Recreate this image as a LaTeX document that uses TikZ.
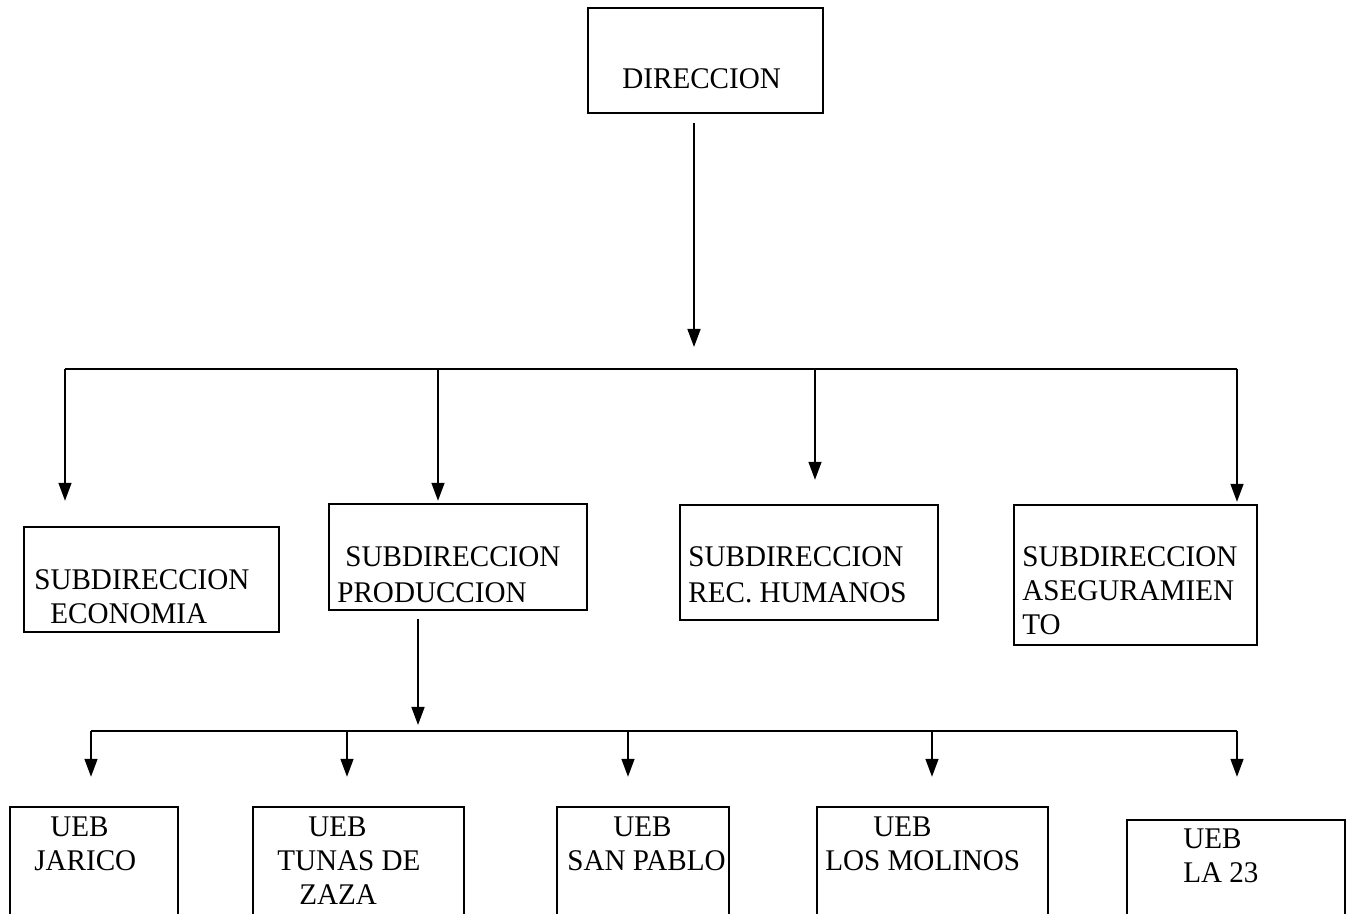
\documentclass[tikz,border=0pt]{standalone}
\usepackage{fontspec}
\setmainfont[FakeStretch=0.97]{Liberation Serif}
\usetikzlibrary{arrows.meta}

\begin{document}
\begin{tikzpicture}[x=0.5pt,y=-0.5pt,
  box/.style={draw,line width=1.2pt,inner sep=0pt},
  lbl/.style={anchor=base west,inner sep=0pt,font=\fontsize{15pt}{17pt}\selectfont},
  conn/.style={line width=0.8pt},
  arr/.style={conn,-{Triangle[length=9pt,width=6.5pt]}}]
\clip (0,0) rectangle (1356,914);

%Boxes of the chart
\node[box,minimum width=117.5pt,minimum height=52.5pt] (dir) at (705.5,60.5) {};
\node[box,minimum width=127.5pt,minimum height=52.5pt] (econ) at (151.5,579.5) {};
\node[box,minimum width=129pt,minimum height=53pt] (prod) at (458,557) {};
\node[box,minimum width=129pt,minimum height=57.5pt] (rech) at (809,562.5) {};
\node[box,minimum width=121.5pt,minimum height=70pt] (aseg) at (1135.5,575) {};
\node[box,minimum width=84pt,minimum height=66.5pt] (jar) at (94,873.5) {};
\node[box,minimum width=105.5pt,minimum height=66.5pt] (tun) at (358.5,873.5) {};
\node[box,minimum width=86pt,minimum height=66.5pt] (sanp) at (643,873.5) {};
\node[box,minimum width=115.5pt,minimum height=66.5pt] (mol) at (932.5,873.5) {};
\node[box,minimum width=109pt,minimum height=60pt] (la) at (1236,880) {};

%Texts inside the boxes
\node[lbl] (dirA) at (622,89) {DIRECCION};
\node[lbl] (econA) at (34,590) {SUBDIRECCION};
\node[lbl] (econB) at (50,624) {ECONOMIA};
\node[lbl] (prodA) at (345,567) {SUBDIRECCION};
\node[lbl] (prodB) at (337,603) {PRODUCCION};
\node[lbl] (rechA) at (688,567) {SUBDIRECCION};
\node[lbl] (rechB) at (688,603) {REC. HUMANOS};
\node[lbl] (asegA) at (1022,567) {SUBDIRECCION};
\node[lbl] (asegB) at (1022,601) {ASEGURAMIEN};
\node[lbl] (asegC) at (1022,635) {TO};
\node[lbl] (jarA) at (50,836) {UEB};
\node[lbl] (jarB) at (34,870) {JARICO};
\node[lbl] (tunA) at (308,836) {UEB};
\node[lbl] (tunB) at (277,870) {TUNAS DE};
\node[lbl] (tunC) at (299,904) {ZAZA};
\node[lbl] (sanpA) at (613,836) {UEB};
\node[lbl] (sanpB) at (567,870) {SAN PABLO};
\node[lbl] (molA) at (873,836) {UEB};
\node[lbl] (molB) at (825,870) {LOS MOLINOS};
\node[lbl] (laA) at (1183,848) {UEB};
\node[lbl] (laB) at (1183,882) {LA 23};

%First level: bus under DIRECCION
\coordinate (busA) at (694,369);
\coordinate (ja) at (65,369);
\coordinate (jb) at (438,369);
\coordinate (jc) at (815,369);
\coordinate (jd) at (1237,369);
\draw[arr,shorten <=4.5pt,shorten >=11pt] (dir.south -| busA) -- (busA);
\draw[conn] (ja) -- (jd);
\foreach \j/\b/\s in {ja/econ/12.5pt, jb/prod/1pt, jc/rech/12pt, jd/aseg/1pt}
  \draw[arr,shorten >=\s] (\j) -- (\j |- \b.north);

%Second level: bus under PRODUCCION
\coordinate (busB) at (418,731);
\coordinate (ka) at (91,731);
\coordinate (kb) at (347,731);
\coordinate (kc) at (628,731);
\coordinate (kd) at (932,731);
\coordinate (ke) at (1237,731);
\draw[arr,shorten <=4pt,shorten >=3pt] (prod.south -| busB) -- (busB);
\draw[conn] (ka) -- (ke);
\foreach \k/\b/\s in {ka/jar/14.5pt, kb/tun/14.5pt, kc/sanp/14.5pt, kd/mol/14.5pt, ke/la/21pt}
  \draw[arr,shorten >=\s] (\k) -- (\k |- \b.north);
\end{tikzpicture}
\end{document}
